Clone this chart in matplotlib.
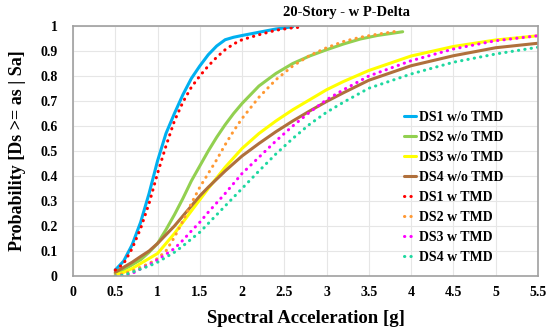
import numpy as np
import matplotlib
matplotlib.use('Agg')
import matplotlib.pyplot as plt

# fragility curves (Sa in g, probability)
x_ds1 = [0.5, 0.6, 0.7, 0.8, 0.9, 1.0, 1.1, 1.2, 1.3, 1.4, 1.5, 1.6, 1.7, 1.8, 1.9, 2.0, 2.2, 2.4, 2.6]
ds1_wo = [0.024, 0.06, 0.125, 0.215, 0.33, 0.46, 0.57, 0.65, 0.725, 0.79, 0.84, 0.885, 0.92, 0.945,
          0.955, 0.962, 0.975, 0.988, 0.997]
x_ds1_w = [0.5, 0.6, 0.7, 0.8, 0.9, 1.0, 1.1, 1.2, 1.3, 1.4, 1.5, 1.6, 1.7, 1.8, 1.9, 2.0, 2.2, 2.4, 2.6, 2.7]
ds1_w = [0.024, 0.05, 0.11, 0.19, 0.29, 0.41, 0.52, 0.62, 0.695, 0.755, 0.80, 0.84, 0.875, 0.905,
         0.928, 0.945, 0.965, 0.983, 0.993, 0.995]

x_ds2 = [0.5, 0.6, 0.7, 0.8, 0.9, 1.0, 1.1, 1.2, 1.3, 1.4, 1.5, 1.6, 1.7, 1.8, 1.9, 2.0, 2.2, 2.4,
         2.6, 2.8, 3.0, 3.2, 3.4, 3.6, 3.9]
ds2_wo = [0.01, 0.025, 0.045, 0.065, 0.095, 0.13, 0.185, 0.245, 0.31, 0.38, 0.44, 0.50, 0.555, 0.605,
          0.65, 0.69, 0.76, 0.81, 0.85, 0.88, 0.905, 0.928, 0.948, 0.962, 0.977]
x_ds2_w = [0.5, 0.6, 0.7, 0.8, 0.9, 1.0, 1.1, 1.2, 1.3, 1.4, 1.5, 1.6, 1.7, 1.8, 1.9, 2.0, 2.2, 2.4,
           2.6, 2.8, 3.0, 3.2, 3.4, 3.6, 3.85]
ds2_w = [0.0, 0.01, 0.02, 0.035, 0.05, 0.07, 0.10, 0.155, 0.22, 0.29, 0.355, 0.41, 0.465, 0.525, 0.58,
         0.63, 0.715, 0.785, 0.84, 0.882, 0.913, 0.938, 0.955, 0.967, 0.98]

x_long = [0.5, 0.6, 0.7, 0.8, 0.9, 1.0, 1.1, 1.2, 1.3, 1.4, 1.5, 1.6, 1.8, 2.0, 2.2, 2.4, 2.6, 2.8,
          3.0, 3.2, 3.5, 4.0, 4.5, 5.0, 5.5]
ds3_wo = [0.004, 0.015, 0.03, 0.05, 0.07, 0.09, 0.13, 0.17, 0.215, 0.26, 0.305, 0.35, 0.435, 0.51,
          0.57, 0.62, 0.665, 0.705, 0.745, 0.778, 0.822, 0.88, 0.918, 0.944, 0.961]
ds4_wo = [0.015, 0.035, 0.055, 0.078, 0.10, 0.13, 0.165, 0.20, 0.24, 0.28, 0.32, 0.355, 0.42, 0.48,
          0.53, 0.577, 0.62, 0.66, 0.698, 0.733, 0.783, 0.841, 0.881, 0.913, 0.931]
ds3_w = [0.0, 0.002, 0.01, 0.028, 0.045, 0.065, 0.087, 0.11, 0.143, 0.18, 0.215, 0.255, 0.33, 0.41,
         0.475, 0.54, 0.60, 0.655, 0.705, 0.745, 0.80, 0.861, 0.908, 0.941, 0.961]
ds4_w = [0.0, 0.003, 0.015, 0.028, 0.04, 0.055, 0.075, 0.095, 0.12, 0.148, 0.175, 0.21, 0.28, 0.35,
         0.42, 0.488, 0.55, 0.607, 0.655, 0.695, 0.751, 0.808, 0.855, 0.888, 0.915]

labels = ['DS1 w/o TMD', 'DS2 w/o TMD', 'DS3 w/o TMD', 'DS4 w/o TMD',
          'DS1 w TMD', 'DS2 w TMD', 'DS3 w TMD', 'DS4 w TMD']
colors = ['#00B0F0', '#92D050', '#FFFF00', '#B0703C',
          '#FF0000', '#FF9933', '#FF00FF', '#1ED8A0']

series = [(x_ds1, ds1_wo), (x_ds2, ds2_wo), (x_long, ds3_wo), (x_long, ds4_wo),
          (x_ds1_w, ds1_w), (x_ds2_w, ds2_w), (x_long, ds3_w), (x_long, ds4_w)]

plt.rcParams['font.family'] = 'Liberation Serif'
plt.rcParams['font.weight'] = 'bold'

fig = plt.figure(figsize=(5.5, 3.35), dpi=100)
ax = fig.add_axes([0.1327, 0.1761, 0.8453, 0.7463])

for i, ((xs, ys), lab, c) in enumerate(zip(series, labels, colors)):
    if i < 4:
        ax.plot(xs, ys, color=c, lw=2.2, label=lab, solid_capstyle='round')
    else:
        ax.plot(xs, ys, color=c, lw=2.2, ls=(0, (0.1, 2.0)), dash_capstyle='round', label=lab)

ax.set_xlim(0, 5.5)
ax.set_ylim(0, 1)
ax.set_xticks(np.arange(0, 5.51, 0.5))
ax.set_xticklabels(['0', '0.5', '1', '1.5', '2', '2.5', '3', '3.5', '4', '4.5', '5', '5.5'])
ax.set_yticks(np.arange(0, 1.01, 0.1))
ax.set_yticklabels(['0', '0.1', '0.2', '0.3', '0.4', '0.5', '0.6', '0.7', '0.8', '0.9', '1'])
ax.tick_params(axis='x', length=0, labelsize=10, pad=7)
ax.tick_params(axis='y', length=0, labelsize=10, pad=11)
for t in ax.get_xticklabels() + ax.get_yticklabels():
    t.set_fontweight('bold')
ax.grid(True, color='#E6E6E6', lw=0.8)
ax.set_axisbelow(True)
for s in ax.spines.values():
    s.set_color('#A0A0A0')
    s.set_linewidth(1.2)

ax.set_xlabel('Spectral Acceleration [g]', fontsize=13.5, fontweight='bold', labelpad=8)
ax.set_ylabel('Probability [Ds >= as | Sa]', fontsize=13, fontweight='bold', labelpad=10)
fig.text(0.63, 0.962, '20-Story - w P-Delta', ha='center', va='center', fontsize=10.5, fontweight='bold')

leg = ax.legend(loc='upper left', bbox_to_anchor=(0.685, 0.71), frameon=False,
                handlelength=0.9, handletextpad=0.15, labelspacing=0.5,
                prop={'family': 'Liberation Serif', 'weight': 'bold', 'size': 10})

fig.savefig('out.png', dpi=100)
